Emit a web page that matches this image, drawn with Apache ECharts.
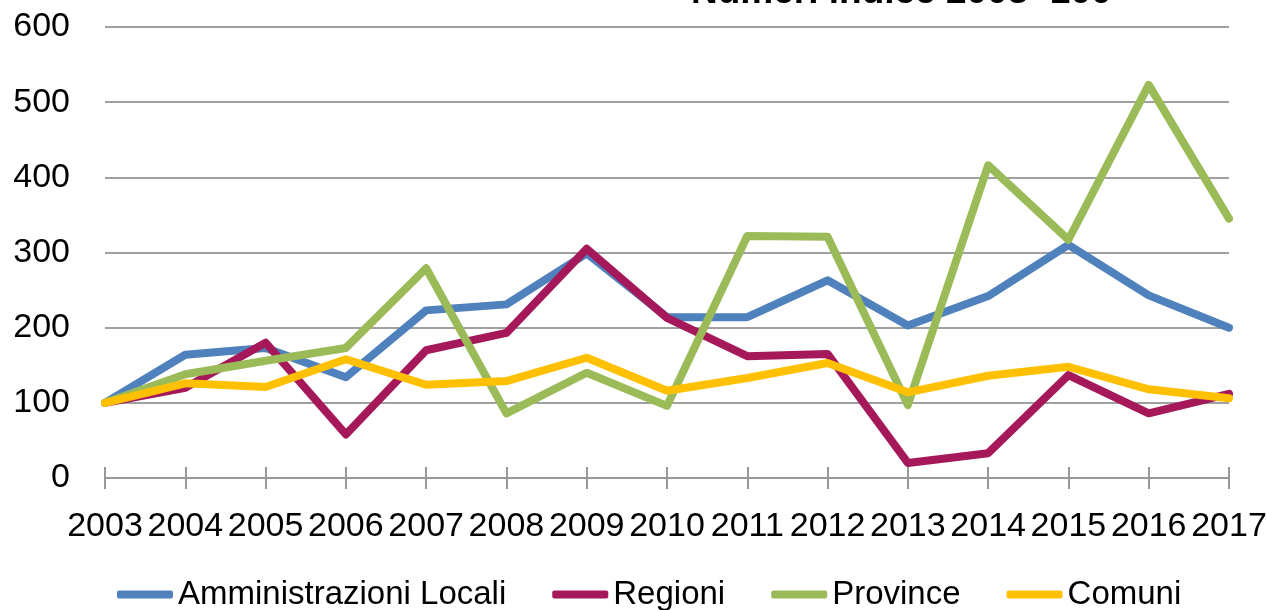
<!DOCTYPE html>
<html>
<head>
<meta charset="utf-8">
<script src="https://cdn.jsdelivr.net/npm/echarts@6/dist/echarts.min.js"></script>
<style>
  html, body { margin: 0; padding: 0; background: #fff; }
  #chart { width: 1266px; height: 610px; }
</style>
</head>
<body>
<div id="chart"></div>
<script>
  // dati
  var anni = ['2003','2004','2005','2006','2007','2008','2009','2010','2011','2012','2013','2014','2015','2016','2017'];
  var amministrazioniLocali = [100,164,173,134,223,231,299,214,214,263,203,242,310,243,200];
  var regioni = [100,120,180,58,170,193,305,213,162,165,20,33,137,86,112];
  var province = [100,138,156,173,279,86,140,96,322,321,97,416,317,523,345];
  var comuni = [100,126,121,158,124,129,160,116,133,153,114,136,148,118,106];

  var myChart = echarts.init(document.getElementById('chart'));

  function serie(nome, dati, colore) {
    return {
      name: nome,
      type: 'line',
      data: dati,
      showSymbol: false,
      lineStyle: { color: colore, width: 8, join: 'round', cap: 'round' },
      itemStyle: { color: colore }
    };
  }

  myChart.setOption({
    animation: false,
    textStyle: { fontFamily: 'Liberation Sans' },
    title: {
      text: 'Numeri indice 2003=100',
      left: 686,
      top: -31,
      textStyle: { fontSize: 37, fontWeight: 'bold', color: '#000', fontFamily: 'Liberation Sans' }
    },
    grid: { left: 105, right: 37, top: 27, bottom: 132, outerBoundsMode: 'none' },
    legend: {
      bottom: -6,
      left: 112,
      icon: 'roundRect',
      itemWidth: 56,
      itemHeight: 8,
      itemGap: 46,
      textStyle: { fontSize: 33, color: '#000', fontFamily: 'Liberation Sans' },
      data: ['Amministrazioni Locali', 'Regioni', 'Province', 'Comuni']
    },
    xAxis: [{
      type: 'category',
      data: anni,
      boundaryGap: false,
      axisLine: { lineStyle: { color: '#999', width: 2 } },
      axisTick: { show: true, length: 11, lineStyle: { color: '#999', width: 2 } },
      axisLabel: { fontSize: 34, color: '#000', margin: 32, interval: 0 }
    }, {
      // tacche verso l'interno (attraversano l'asse)
      type: 'category',
      data: anni,
      position: 'bottom',
      boundaryGap: false,
      axisLine: { show: false },
      axisTick: { show: true, inside: true, length: 11, lineStyle: { color: '#999', width: 2 } },
      axisLabel: { show: false }
    }],
    yAxis: {
      type: 'value',
      min: 0,
      max: 600,
      interval: 100,
      axisLine: { show: false },
      axisTick: { show: false },
      axisLabel: { fontSize: 34, color: '#000', margin: 35 },
      splitLine: { lineStyle: { color: '#a0a0a0', width: 2 } }
    },
    series: [
      serie('Amministrazioni Locali', amministrazioniLocali, '#4F81BD'),
      serie('Regioni', regioni, '#A5195A'),
      serie('Province', province, '#9BBB59'),
      serie('Comuni', comuni, '#FFC000')
    ]
  });
</script>
</body>
</html>
